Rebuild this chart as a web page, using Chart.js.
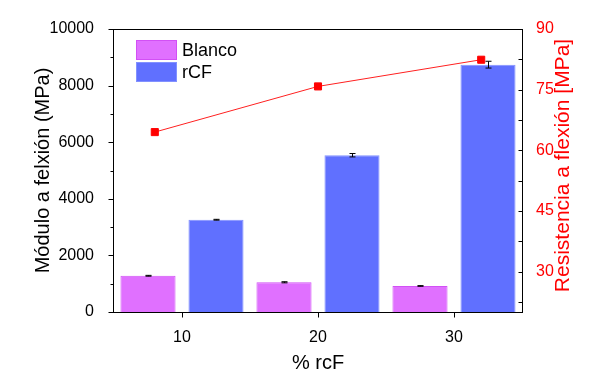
<!DOCTYPE html>
<html>
<head>
<meta charset="utf-8">
<script src="https://cdn.jsdelivr.net/npm/chart.js@4/dist/chart.umd.min.js"></script>
<style>
  html, body { margin: 0; padding: 0; background: #fff; }
</style>
</head>
<body>
<canvas id="grafico" width="600" height="385"></canvas>
<script>
// Datos
const porcentajes = [10, 20, 30];
const moduloBlanco = [1280, 1050, 920];
const errorBlanco = [15, 20, 12];
const moduloRcf = [3260, 5540, 8740];
const errorRcf = [15, 60, 120];
const resistencia = [64.5, 75.8, 82.4];
const ticksModulo = [0, 2000, 4000, 6000, 8000, 10000];
const ticksResistencia = [30, 45, 60, 75, 90];

const fuente = "'Liberation Sans', Arial, sans-serif";

// Chart.js 4.5 reparte las barras también entre los ejes x de todos los datasets
// (la línea usa 'x2'), así que hay que doblar el ancho de categoría en ese caso
const ejesX = Chart.controllers.bar.prototype._getAxisCount ? 2 : 1;

// Marcas de los ejes, marco, título derecho y leyenda dentro del área
const marcasEjes = {
  id: 'marcasEjes',
  afterDatasetsDraw(chart) {
    const ctx = chart.ctx;
    ctx.save();
    ctx.strokeStyle = '#000';
    ctx.lineWidth = 1;
    chart.data.datasets.forEach((ds, i) => {
      if (!ds.errores) return;
      const meta = chart.getDatasetMeta(i);
      const escala = chart.scales[meta.yAxisID];
      meta.data.forEach((barra, j) => {
        const x = Math.round(barra.x) + 0.5;
        const arriba = escala.getPixelForValue(ds.data[j] + ds.errores[j]);
        const abajo = escala.getPixelForValue(ds.data[j] - ds.errores[j]);
        ctx.beginPath();
        ctx.moveTo(x, arriba); ctx.lineTo(x, abajo);
        ctx.moveTo(x - 3, arriba); ctx.lineTo(x + 3, arriba);
        ctx.moveTo(x - 3, abajo); ctx.lineTo(x + 3, abajo);
        ctx.stroke();
      });
    });
    ctx.restore();
  },
  afterDraw(chart) {
    const { ctx, chartArea: a, scales } = chart;
    const linea = (x1, y1, x2, y2) => {
      ctx.beginPath(); ctx.moveTo(x1, y1); ctx.lineTo(x2, y2); ctx.stroke();
    };
    ctx.save();
    ctx.strokeStyle = '#000';
    ctx.lineWidth = 1;
    const l = Math.round(a.left) - 0.5, r = Math.round(a.right) + 0.5;
    const t = Math.round(a.top) + 0.5, b = Math.round(a.bottom) + 0.5;
    ctx.strokeRect(l, t, r - l, b - t);

    // eje izquierdo: marcas hacia fuera
    const pasoIzq = ticksModulo[1] - ticksModulo[0];
    ticksModulo.forEach(v => {
      const y = Math.round(scales.y.getPixelForValue(v)) + 0.5;
      linea(l - 5, y, l, y);
      if (v + pasoIzq / 2 < scales.y.max) {
        const ym = Math.round(scales.y.getPixelForValue(v + pasoIzq / 2)) + 0.5;
        linea(l - 3, ym, l, ym);
      }
    });

    // eje derecho: marcas hacia dentro
    const pasoDer = ticksResistencia[1] - ticksResistencia[0];
    ticksResistencia.forEach(v => {
      const y = Math.round(scales.y1.getPixelForValue(v)) + 0.5;
      linea(r - 4, y, r, y);
      const vm = v - pasoDer / 2;
      if (vm > scales.y1.min) {
        const ym = Math.round(scales.y1.getPixelForValue(vm)) + 0.5;
        linea(r - 4, ym, r, ym);
      }
    });

    // eje x
    porcentajes.forEach((p, i) => {
      const x = Math.round(scales.x.getPixelForValue(i)) + 0.5;
      linea(x, b, x, b + 5);
    });

    // título del eje derecho, leído de abajo hacia arriba como en Origin
    const tituloDer = scales.y1.options.title;
    ctx.save();
    ctx.translate(563, (a.top + a.bottom) / 2 - 5);
    ctx.rotate(-Math.PI / 2);
    ctx.font = '21px ' + fuente;
    ctx.fillStyle = tituloDer.color;
    ctx.textAlign = 'center';
    ctx.textBaseline = 'middle';
    ctx.fillText(tituloDer.text, 0, 0);
    ctx.restore();

    // leyenda
    ctx.font = '18px ' + fuente;
    ctx.textBaseline = 'middle';
    ctx.textAlign = 'left';
    chart.data.datasets.filter(ds => ds.type === 'bar').forEach((ds, i) => {
      const x = a.left + 22, y = a.top + 11 + i * 22;
      ctx.fillStyle = ds.backgroundColor;
      ctx.fillRect(x, y, 41, 20);
      ctx.strokeStyle = ds.borderColor;
      ctx.strokeRect(x + 0.5, y + 0.5, 40, 19);
      ctx.fillStyle = '#000';
      ctx.fillText(ds.label, x + 46, y + 11);
    });
    ctx.restore();
  }
};

new Chart(document.getElementById('grafico'), {
  data: {
    labels: porcentajes.map(String),
    datasets: [
      {
        type: 'line',
        label: 'Resistencia',
        data: porcentajes.map((p, i) => ({ x: p, y: resistencia[i] })),
        xAxisID: 'x2',
        yAxisID: 'y1',
        borderColor: '#ff2020',
        borderWidth: 1,
        pointStyle: 'rect',
        pointRadius: 5,
        pointBackgroundColor: '#ff0000',
        pointBorderColor: '#ff0000',
        pointBorderWidth: 1,
        order: 0
      },
      {
        type: 'bar',
        label: 'Blanco',
        data: moduloBlanco,
        errores: errorBlanco,
        xAxisID: 'x',
        yAxisID: 'y',
        backgroundColor: 'rgb(224,112,255)',
        borderColor: 'rgb(210,80,245)',
        borderWidth: 1,
        barPercentage: 0.81,
        categoryPercentage: 1.0 * ejesX,
        order: 1
      },
      {
        type: 'bar',
        label: 'rCF',
        data: moduloRcf,
        errores: errorRcf,
        xAxisID: 'x',
        yAxisID: 'y',
        backgroundColor: 'rgb(96,112,255)',
        borderColor: 'rgb(130,145,255)',
        borderWidth: 1,
        barPercentage: 0.81,
        categoryPercentage: 1.0 * ejesX,
        order: 1
      }
    ]
  },
  options: {
    responsive: false,
    animation: false,
    devicePixelRatio: 1,
    layout: { padding: { top: 29, left: 0, right: 0, bottom: 0 } },
    plugins: { legend: { display: false }, tooltip: { enabled: false } },
    scales: {
      x: {
        type: 'category',
        offset: true,
        grid: { display: false },
        border: { display: false },
        ticks: { color: '#000', font: { family: fuente, size: 16 }, padding: 8 },
        title: { display: true, text: '% rcF', color: '#000', font: { family: fuente, size: 20 }, padding: { bottom: 10 } },
        afterFit(s) { s.height = 73; }
      },
      x2: {
        type: 'linear',
        display: false,
        min: 7.5,
        max: 32.5
      },
      y: {
        type: 'linear',
        position: 'left',
        min: 0,
        max: 10000,
        afterBuildTicks(s) { s.ticks = ticksModulo.map(v => ({ value: v })); },
        grid: { display: false },
        border: { display: false },
        ticks: { color: '#000', font: { family: fuente, size: 16 }, padding: 12, callback: v => String(v) },
        title: { display: true, text: 'Módulo a felxión (MPa)', color: '#000', font: { family: fuente, size: 20 }, padding: { top: 31 } },
        afterFit(s) { s.width = 114; }
      },
      y1: {
        type: 'linear',
        position: 'right',
        min: 20,
        max: 90,
        afterBuildTicks(s) { s.ticks = ticksResistencia.map(v => ({ value: v })); },
        grid: { display: false },
        border: { display: false },
        ticks: { color: '#ff0000', font: { family: fuente, size: 16 }, padding: 6, callback: v => String(v) },
        // se dibuja en el plugin para girarlo como el izquierdo
        title: { display: false, text: 'Resistencia a flexión [MPa]', color: '#ff0000' },
        afterFit(s) { s.width = 78; }
      }
    }
  },
  plugins: [marcasEjes]
});
</script>
</body>
</html>
